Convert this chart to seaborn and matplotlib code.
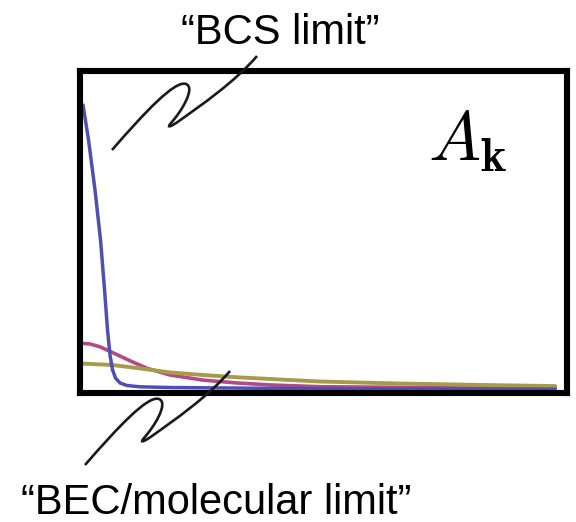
import numpy as np
import pandas as pd
import matplotlib
matplotlib.use("Agg")
import matplotlib.pyplot as plt
from matplotlib.path import Path
from matplotlib.patches import PathPatch
from matplotlib.transforms import Affine2D
import seaborn as sns

# Momentum (in units of the plotted range) and A_k for the three coupling regimes
k_bcs = [0.0, 0.0117, 0.0254, 0.0371, 0.0456, 0.0519, 0.0572, 0.0625, 0.0689,
         0.0784, 0.0932, 0.1208, 0.184, 0.354, 0.566, 0.778, 1.0]
a_bcs = [1.0, 0.877, 0.701, 0.525, 0.350, 0.209, 0.121, 0.069, 0.040,
         0.023, 0.014, 0.0095, 0.007, 0.0046, 0.0028, 0.0018, 0.001]

k_mid = [0.0, 0.0148, 0.036, 0.0636, 0.0996, 0.1356, 0.184, 0.254, 0.326,
         0.396, 0.502, 0.672, 1.0]
a_mid = [0.162, 0.160, 0.150, 0.129, 0.101, 0.0745, 0.051, 0.033, 0.023,
         0.016, 0.0098, 0.0077, 0.0063]

k_bec = [0.0, 0.0636, 0.1356, 0.184, 0.254, 0.326, 0.396, 0.502, 0.672,
         0.841, 1.0]
a_bec = [0.091, 0.086, 0.071, 0.060, 0.051, 0.043, 0.037, 0.028, 0.021,
         0.016, 0.012]

regimes = ["intermediate", "BEC", "BCS"]
colors = {"BCS": "#4f4fb3", "intermediate": "#b24a86", "BEC": "#a99a4b"}
widths = {"BCS": 2.5, "intermediate": 2.6, "BEC": 2.8}

df = pd.concat([
    pd.DataFrame({"k": k_mid, "A": a_mid, "regime": "intermediate"}),
    pd.DataFrame({"k": k_bec, "A": a_bec, "regime": "BEC"}),
    pd.DataFrame({"k": k_bcs, "A": a_bcs, "regime": "BCS"}),
], ignore_index=True)

sns.set_theme(style="white")
plt.rcParams["mathtext.fontset"] = "cm"

W, H = 576, 522
fig = plt.figure(figsize=(W / 100, H / 100), dpi=100)
ax = fig.add_axes([80 / W, 1 - 393 / H, (567 - 80) / W, (393 - 71) / H])

for name in regimes:
    sns.lineplot(data=df[df["regime"] == name], x="k", y="A",
                 color=colors[name], linewidth=widths[name], ax=ax,
                 estimator=None, sort=False)

ax.set_xlim(-0.0064, 1.025)
ax.set_ylim(-0.0123, 1.1195)
ax.set_xticks([])
ax.set_yticks([])
ax.set_xlabel("")
ax.set_ylabel("")
for sp in ax.spines.values():
    sp.set_visible(True)
    sp.set_color("black")
    sp.set_linewidth(4.4)
    sp.set_zorder(5)

fig.text(428 / W, 1 - 160 / H, r"$A_{\mathbf{k}}$", fontsize=50,
         ha="left", va="baseline", color="black")

# pixel coordinates (origin top-left) for the leader squiggles
pix = Affine2D().scale(1 / W, -1 / H).translate(0, 1) + fig.transFigure


def squiggle(dx, dy):
    verts = [(112, 150),
             (145, 112), (175, 80), (186, 84),
             (196, 88), (181, 112), (171, 123),
             (166, 129), (172, 126), (179, 121),
             (200, 106), (235, 82), (257, 56)]
    codes = [Path.MOVETO] + [Path.CURVE4] * 12
    verts = [(x + dx, y + dy) for x, y in verts]
    return PathPatch(Path(verts, codes), transform=pix, facecolor="none",
                     edgecolor="#1a1a1a", linewidth=1.9, capstyle="butt",
                     clip_on=False, zorder=10)


fig.add_artist(squiggle(0, 0))
fig.add_artist(squiggle(-27, 315))

fig.text(280 / W, 1 - 44 / H, "\u201cBCS limit\u201d", ha="center",
         va="baseline", fontsize=30, family="Liberation Sans", color="black")
fig.text(21 / W, 1 - 514 / H, "\u201cBEC/molecular limit\u201d",
         ha="left", va="baseline", fontsize=30, family="Liberation Sans",
         color="black")

fig.savefig("out.png", dpi=100)
